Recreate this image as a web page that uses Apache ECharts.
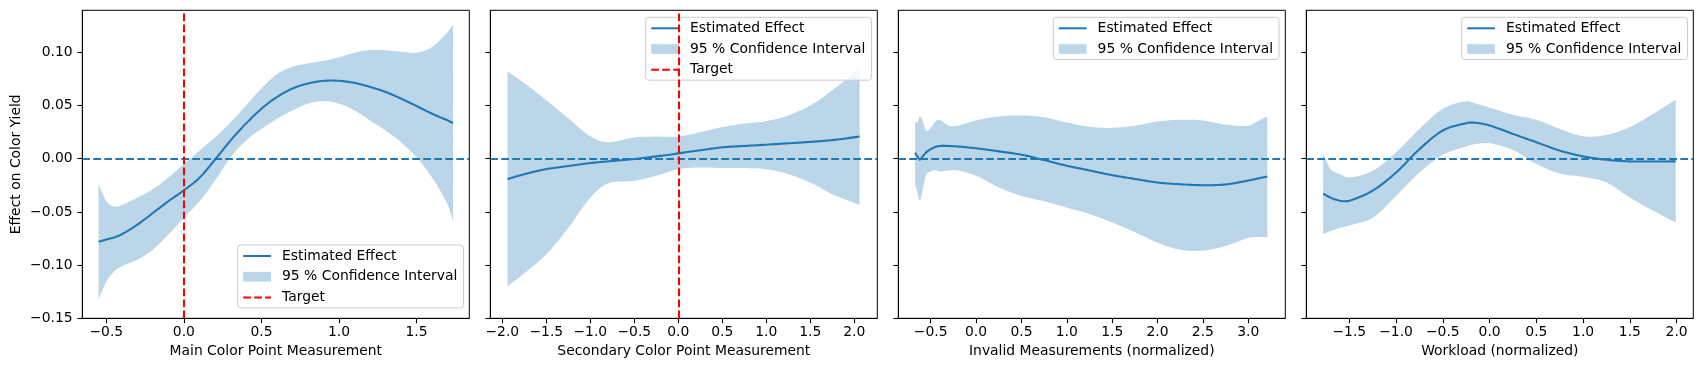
<!DOCTYPE html>
<html><head><meta charset="utf-8">
<script src="https://cdn.jsdelivr.net/npm/echarts@6/dist/echarts.min.js"></script>
<style>html,body{margin:0;padding:0;background:#fff}#c{width:1703px;height:371px}</style>
</head><body><div id="c"></div>
<script>
// ---------- data ----------
const xNames = ['Main Color Point Measurement', 'Secondary Color Point Measurement', 'Invalid Measurements (normalized)', 'Workload (normalized)'];
const yName = 'Effect on Color Yield';
const targets = [0, 0, null, null];
const yTicks = [-0.15, -0.10, -0.05, 0.00, 0.05, 0.10];
const xTicks1 = [-0.5, 0.0, 0.5, 1.0, 1.5];
const xTicks2 = [-2.0, -1.5, -1.0, -0.5, 0.0, 0.5, 1.0, 1.5, 2.0];
const xTicks3 = [-0.5, 0.0, 0.5, 1.0, 1.5, 2.0, 2.5, 3.0];
const xTicks4 = [-1.5, -1.0, -0.5, 0.0, 0.5, 1.0, 1.5, 2.0];
const xRange1 = [-0.655, 1.84];
const xRange2 = [-2.136, 2.261];
const xRange3 = [-0.857, 3.408];
const xRange4 = [-1.96, 2.178];
const yRange = [-0.15, 0.1395];

const p1X  = [-0.55,-0.5,-0.45,-0.4,-0.3,-0.2,-0.1,0,0.1,0.2,0.3,0.4,0.5,0.6,0.7,0.8,0.9,1.0,1.1,1.2,1.3,1.4,1.5,1.6,1.7,1.735];
const p1Est= [-0.078,-0.076,-0.074,-0.071,-0.062,-0.051,-0.040,-0.0297,-0.018,-0.001,0.017,0.033,0.047,0.058,0.066,0.0707,0.0732,0.0732,0.0713,0.0675,0.0628,0.0565,0.0495,0.0423,0.036,0.0334];
const p1Hi = [-0.024,-0.040,-0.045,-0.0435,-0.0366,-0.0287,-0.0177,-0.005,0.0076,0.020,0.034,0.050,0.066,0.0795,0.0864,0.0896,0.092,0.0953,0.0997,0.102,0.102,0.1006,0.0997,0.105,0.119,0.126];
const p1Lo = [-0.132,-0.1155,-0.106,-0.101,-0.095,-0.0855,-0.0713,-0.0555,-0.040,-0.0208,0.0013,0.017,0.028,0.0375,0.0454,0.0517,0.0543,0.0517,0.0454,0.036,0.0265,0.0155,0.0013,-0.0177,-0.043,-0.0587];

const p2X  = [-1.94,-1.75,-1.5,-1.25,-1.0,-0.8,-0.5,-0.25,0,0.25,0.5,0.75,1.0,1.25,1.5,1.75,2.06];
const p2Est= [-0.0192,-0.0145,-0.0098,-0.0068,-0.0041,-0.0025,-0.0003,0.0022,0.005,0.008,0.0107,0.012,0.0132,0.0145,0.0158,0.0175,0.0208];
const p2Hi = [0.082,0.071,0.055,0.038,0.021,0.0155,0.020,0.0208,0.0208,0.025,0.0297,0.033,0.0353,0.0407,0.050,0.0644,0.085];
const p2Lo = [-0.120,-0.1076,-0.090,-0.065,-0.0366,-0.0233,-0.0208,-0.016,-0.0098,-0.0082,-0.0088,-0.0088,-0.0098,-0.0145,-0.0224,-0.0334,-0.0435];

const p3X  = [-0.672,-0.645,-0.62,-0.59,-0.55,-0.5,-0.45,-0.4,-0.3,-0.2,0,0.25,0.5,0.75,1.0,1.25,1.5,1.75,2.0,2.25,2.5,2.75,3.0,3.1,3.21];
const p3Est= [0.0057,0.002,-0.001,0.002,0.006,0.009,0.011,0.012,0.012,0.0115,0.0098,0.0069,0.0038,-0.0013,-0.0066,-0.011,-0.0155,-0.019,-0.0224,-0.024,-0.0249,-0.0242,-0.0205,-0.0187,-0.0167];
const p3Hi = [0.035,0.034,0.040,0.036,0.026,0.029,0.035,0.0366,0.031,0.031,0.036,0.0397,0.0407,0.039,0.034,0.030,0.029,0.031,0.035,0.0366,0.036,0.032,0.031,0.035,0.040];
const p3Lo = [-0.024,-0.032,-0.040,-0.030,-0.015,-0.012,-0.0105,-0.012,-0.011,-0.011,-0.016,-0.027,-0.035,-0.040,-0.046,-0.052,-0.060,-0.069,-0.079,-0.0855,-0.0864,-0.082,-0.0744,-0.0735,-0.0738];

const p4X  = [-1.78,-1.7,-1.6,-1.5,-1.25,-1.0,-0.75,-0.5,-0.25,-0.15,0,0.25,0.5,0.75,1.0,1.25,1.5,1.75,1.99];
const p4Est= [-0.0328,-0.0366,-0.0395,-0.0395,-0.030,-0.013,0.009,0.0265,0.0334,0.0338,0.0312,0.0233,0.0155,0.0076,0.0022,-0.001,-0.0025,-0.0026,-0.0025];
const p4Hi = [0.0044,-0.0098,-0.0145,-0.0177,-0.0114,0.006,0.028,0.047,0.054,0.052,0.048,0.0413,0.0366,0.028,0.0211,0.0224,0.0297,0.0423,0.0555];
const p4Lo = [-0.0707,-0.068,-0.065,-0.0628,-0.0555,-0.035,-0.013,0.0038,0.0114,0.0139,0.0145,0.0082,-0.005,-0.0139,-0.017,-0.0224,-0.0366,-0.049,-0.060];

// ---------- build ----------
const panels = [
  {x:p1X, est:p1Est, hi:p1Hi, lo:p1Lo, ticks:xTicks1, range:xRange1},
  {x:p2X, est:p2Est, hi:p2Hi, lo:p2Lo, ticks:xTicks2, range:xRange2},
  {x:p3X, est:p3Est, hi:p3Hi, lo:p3Lo, ticks:xTicks3, range:xRange3},
  {x:p4X, est:p4Est, hi:p4Hi, lo:p4Lo, ticks:xTicks4, range:xRange4}
];
const gridLefts = [82.3, 490.3, 898.3, 1306.3];
const legendPos = [[237.7, 245], [645.7, 17.3], [1053.3, 17.3], [1461.7, 17.3]];
const FONT = 'DejaVu Sans';
const BLUE = '#1f77b4';
const DASH = [7.7, 3.3];
const LW = 2.08;
const fmt = (v, d) => (Math.abs(v) < 1e-12 ? 0 : v).toFixed(d).replace('-', '\u2212');

// smooth curve through pixel points (cubic Hermite in x), used only for drawing
function smoothPixels(pts) {
  const n = pts.length, out = [];
  const m = pts.map((p, i) => {
    const a = pts[Math.max(0, i - 1)], b = pts[Math.min(n - 1, i + 1)];
    return (b[1] - a[1]) / (b[0] - a[0]);
  });
  for (let i = 0; i < n - 1; i++) {
    const [x0, y0] = pts[i], [x1, y1] = pts[i + 1], h = x1 - x0;
    const steps = Math.max(2, Math.ceil(Math.abs(h) / 2));
    for (let s = 0; s < steps; s++) {
      const t = s / steps, t2 = t * t, t3 = t2 * t;
      const y = (2*t3 - 3*t2 + 1) * y0 + (t3 - 2*t2 + t) * h * m[i] + (-2*t3 + 3*t2) * y1 + (t3 - t2) * h * m[i + 1];
      out.push([x0 + t * h, y]);
    }
  }
  out.push(pts[n - 1]);
  return out;
}

const grid = [], xAxis = [], yAxis = [], series = [], legend = [];
panels.forEach((p, i) => {
  grid.push({left: gridLefts[i], top: 10.3, width: 387, height: 308, show: true,
    borderColor: '#000', borderWidth: 1, backgroundColor: 'transparent', outerBoundsMode: 'none', containLabel: false});
  xAxis.push({type: 'value', gridIndex: i, min: p.range[0], max: p.range[1],
    name: xNames[i], nameLocation: 'middle', nameGap: 26,
    nameTextStyle: {fontFamily: FONT, fontSize: 13.9, color: '#000'},
    axisLine: {show: true, onZero: false, lineStyle: {color: '#000', width: 1}},
    axisTick: {show: true, inside: false, length: 4.9, customValues: p.ticks, lineStyle: {color: '#000', width: 1.1}},
    axisLabel: {show: true, margin: 7, customValues: p.ticks, formatter: v => fmt(v, 1),
      fontFamily: FONT, fontSize: 13.9, color: '#000'},
    splitLine: {show: false}});
  yAxis.push({type: 'value', gridIndex: i, min: yRange[0], max: yRange[1],
    name: i === 0 ? yName : '', nameLocation: 'middle', nameGap: 59, nameRotate: 90,
    nameTextStyle: {fontFamily: FONT, fontSize: 13.9, color: '#000'},
    axisLine: {show: true, onZero: false, lineStyle: {color: '#000', width: 1}},
    axisTick: {show: true, inside: false, length: 4.9, customValues: yTicks, lineStyle: {color: '#000', width: 1.1}},
    axisLabel: {show: i === 0, margin: 9.7, customValues: yTicks, formatter: v => fmt(v, 2),
      fontFamily: FONT, fontSize: 13.9, color: '#000'},
    splitLine: {show: false}});

  // confidence band
  const bandData = p.x.map((x, k) => [x, p.lo[k], p.hi[k]]);
  series.push({type: 'custom', name: '95 % Confidence Interval', xAxisIndex: i, yAxisIndex: i,
    data: bandData, encode: {x: 0, y: [1, 2]}, silent: true, z: 1,
    itemStyle: {color: '#bbd6e8'},
    renderItem: (params, api) => {
      if (params.dataIndex !== 0) return null;
      const hiPts = [], loPts = [];
      for (let k = 0; k < bandData.length; k++) {
        hiPts.push(api.coord([bandData[k][0], bandData[k][2]]));
        loPts.push(api.coord([bandData[k][0], bandData[k][1]]));
      }
      const top = smoothPixels(hiPts);
      const bot = smoothPixels(loPts).reverse();
      return {type: 'polygon', shape: {points: top.concat(bot)},
        style: {fill: 'rgba(31,119,180,0.3)', stroke: 'none'}};
    }});
  // estimated effect curve
  const estData = p.x.map((x, k) => [x, p.est[k]]);
  series.push({type: 'custom', name: 'est' + i, xAxisIndex: i, yAxisIndex: i,
    data: estData, encode: {x: 0, y: 1}, silent: true, z: 3,
    renderItem: (params, api) => {
      if (params.dataIndex !== 0) return null;
      const pts = estData.map(d => api.coord(d));
      return {type: 'polyline', shape: {points: smoothPixels(pts)},
        style: {stroke: BLUE, lineWidth: LW, fill: null, lineJoin: 'round', lineCap: 'butt'}};
    }});
  // legend entry + zero reference line
  series.push({type: 'line', name: 'Estimated Effect', xAxisIndex: i, yAxisIndex: i, data: [],
    symbol: 'none', showSymbol: false, z: 3,
    itemStyle: {color: BLUE}, lineStyle: {color: BLUE, width: LW},
    markLine: {silent: true, symbol: ['none', 'none'], label: {show: false}, animation: false,
      lineStyle: {color: BLUE, type: DASH, width: LW}, emphasis: {disabled: true},
      data: [{yAxis: 0}]}});
  const items = [{name: 'Estimated Effect', itemStyle: {opacity: 0}},
                 {name: '95 % Confidence Interval', icon: 'rect'}];
  if (targets[i] !== null) {
    series.push({type: 'line', name: 'Target', xAxisIndex: i, yAxisIndex: i, data: [],
      symbol: 'none', showSymbol: false, z: 3,
      itemStyle: {color: '#ff0000'}, lineStyle: {color: '#ff0000', width: LW, type: DASH},
      markLine: {silent: true, symbol: ['none', 'none'], label: {show: false}, animation: false,
        lineStyle: {color: '#ff0000', type: DASH, width: LW}, emphasis: {disabled: true},
        data: [{xAxis: targets[i]}]}});
    items.push({name: 'Target', itemStyle: {opacity: 0}});
  }
  legend.push({orient: 'vertical', left: legendPos[i][0], top: legendPos[i][1], data: items,
    itemWidth: 27.8, itemHeight: 9.7, itemGap: 6.7, padding: [4, 6, 3.5, 4.5], z: 5,
    backgroundColor: 'rgba(255,255,255,0.8)', borderColor: '#cccccc', borderWidth: 1, borderRadius: 3,
    selectedMode: false,
    textStyle: {fontFamily: FONT, fontSize: 13.9, color: '#000', lineHeight: 14, padding: [0, 0, 0, 6]}});
});

const chart = echarts.init(document.getElementById('c'), null, {renderer: 'canvas'});
chart.setOption({animation: false, backgroundColor: '#fff', tooltip: {show: false},
  grid, xAxis, yAxis, series, legend});
</script></body></html>
